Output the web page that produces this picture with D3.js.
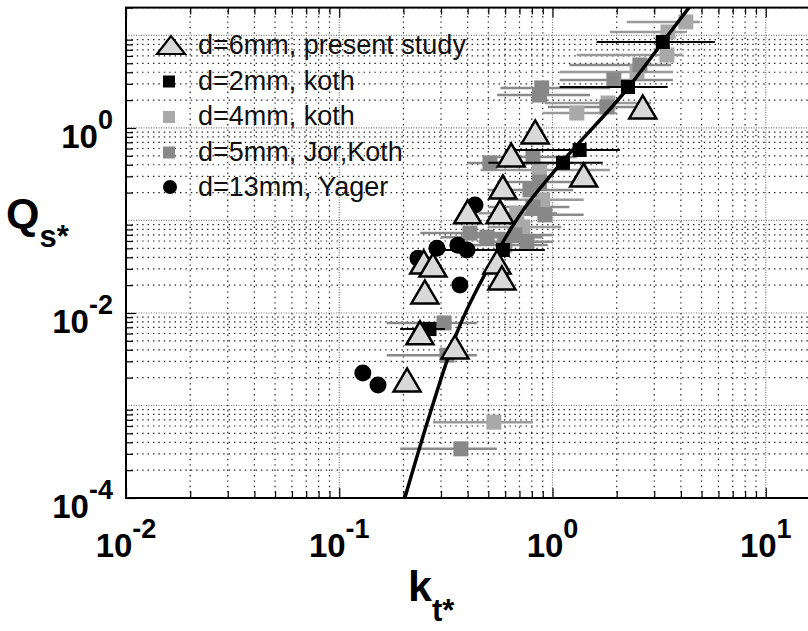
<!DOCTYPE html>
<html>
<head>
<meta charset="utf-8">
<script src="https://cdn.jsdelivr.net/npm/d3@7"></script>
<style>
  body { margin: 0; background: #fff; }
  svg { display: block; font-family: "Liberation Sans", Arial, Helvetica, sans-serif; }
</style>
</head>
<body>
<div id="chart"></div>
<script>
// axis ticks
var xMajor = [1e-2, 1e-1, 1e0, 1e1];
var xExp = ["-2", "-1", "0", "1"];
var yMajor = [1e-4, 1e-2, 1e0];
var yExp = ["-4", "-2", "0"];

// d=6mm, present study (triangles)
var presentKt = [2.65, 0.83, 0.64, 1.40, 0.585, 0.40, 0.567, 0.549, 0.579, 0.249, 0.275, 0.252, 0.239, 0.349, 0.208];
var presentQ  = [1.69, 0.905, 0.51, 0.31, 0.23, 0.124, 0.124, 0.0356, 0.0239, 0.0356, 0.033, 0.0169, 0.0061, 0.0043, 0.00189];

// d=2mm, koth (black squares) with horizontal error bars
var koth2Kt = [3.29, 2.26, 1.34, 1.12, 0.585, 0.265];
var koth2Q  = [8.5, 2.77, 0.578, 0.42, 0.048, 0.0067];
var koth2Lo = [1.61, 1.08, 0.60, 0.50, 0.306, 0.193];
var koth2Hi = [5.77, 3.47, 2.07, 1.72, 0.921, 0.313];

// d=4mm, koth (light grey squares)
var koth4Kt = [4.22, 3.48, 3.44, 2.49, 1.82, 1.30, 0.87, 0.90, 0.68, 0.726, 0.531];
var koth4Q  = [14.0, 10.9, 6.15, 4.03, 1.86, 1.45, 0.352, 0.167, 0.12, 0.085, 0.00066];
var koth4Lo = [2.23, 1.86, 1.30, 1.08, 0.92, 0.90, 0.46, 0.60, 0.45, 0.50, 0.275];
var koth4Hi = [4.91, 4.27, 4.08, 3.67, 2.90, 2.00, 1.86, 1.40, 1.05, 1.10, 0.809];

// d=5mm, Jor,Koth (medium grey squares)
var jor5Kt = [2.57, 1.94, 0.89, 0.87, 1.80, 0.81, 0.509, 0.87, 0.81, 0.493, 0.41, 0.759, 0.667, 0.598, 0.784, 0.921, 0.310, 0.320, 0.372];
var jor5Q  = [4.80, 3.30, 2.71, 2.27, 1.69, 0.485, 0.419, 0.26, 0.14, 0.066, 0.073, 0.059, 0.0697, 0.0543, 0.214, 0.115, 0.0078, 0.0035, 0.00034];
var jor5Lo = [1.20, 1.08, 0.57, 0.55, 0.95, 0.48, 0.40, 0.55, 0.50, 0.30, 0.24, 0.45, 0.42, 0.36, 0.50, 0.60, 0.167, 0.167, 0.193];
var jor5Hi = [3.60, 3.67, 1.86, 1.50, 2.80, 1.30, 1.25, 1.30, 1.20, 0.90, 0.75, 1.00, 1.00, 0.95, 1.25, 1.40, 0.442, 0.442, 0.549];

// d=13mm, Yager (black circles)
var yagerKt = [0.433, 0.287, 0.360, 0.397, 0.234, 0.368, 0.129, 0.152];
var yagerQ  = [0.147, 0.050, 0.054, 0.048, 0.039, 0.0201, 0.00224, 0.00167];

// fitted curve
var fitKt = [0.203, 0.261, 0.356, 0.509, 0.703, 1.08, 2.26, 3.29, 4.65];
var fitQ  = [1e-4, 7.0e-4, 0.0061, 0.033, 0.115, 0.398, 2.71, 8.5, 24.2];

var legendLabels = ["d=6mm, present study", "d=2mm, koth", "d=4mm, koth", "d=5mm, Jor,Koth", "d=13mm, Yager"];

var width = 808, height = 631;
var lightGrey = "#a9a9a9", midGrey = "#888", triFill = "#d9d9d9";

var x = d3.scaleLog().domain([1e-2, 1e2]).range([126, 979]);
var y = d3.scaleLog().domain([1e-4, 20]).range([498, 7.6]);

var svg = d3.select("#chart").append("svg")
    .attr("width", width)
    .attr("height", height);

svg.append("rect").attr("width", width).attr("height", height).attr("fill", "#fff");

svg.append("clipPath").attr("id", "plotclip")
    .append("rect")
    .attr("x", x.range()[0]).attr("y", y.range()[1])
    .attr("width", x.range()[1] - x.range()[0])
    .attr("height", y.range()[0] - y.range()[1]);

var isMajor = function(d) { return Math.abs(Math.log10(d) - Math.round(Math.log10(d))) < 1e-9; };
var xt = x.ticks();
var yt = y.ticks().filter(function(d) { return d <= 20; });

// dotted grid
var grid = svg.append("g");
grid.selectAll(".vg").data(xt).enter().append("line")
    .attr("x1", function(d) { return x(d); }).attr("x2", function(d) { return x(d); })
    .attr("y1", y.range()[0]).attr("y2", y.range()[1])
    .attr("stroke", function(d) { return isMajor(d) ? "#777" : "#222"; })
    .attr("stroke-width", 1.2)
    .attr("stroke-dasharray", function(d) { return isMajor(d) ? "1,1.5" : "1.4,4"; });
grid.selectAll(".hg").data(yt).enter().append("line")
    .attr("y1", function(d) { return y(d); }).attr("y2", function(d) { return y(d); })
    .attr("x1", x.range()[0]).attr("x2", x.range()[1])
    .attr("stroke", function(d) { return isMajor(d) ? "#777" : "#222"; })
    .attr("stroke-width", 1.2)
    .attr("stroke-dasharray", function(d) { return isMajor(d) ? "1,1.5" : "1.4,4"; });

var plot = svg.append("g").attr("clip-path", "url(#plotclip)");

function errBars(kt, q, lo, hi, color, w) {
    plot.append("g").selectAll("line").data(kt).enter().append("line")
        .attr("x1", function(d, i) { return x(lo[i]); })
        .attr("x2", function(d, i) { return x(hi[i]); })
        .attr("y1", function(d, i) { return y(q[i]); })
        .attr("y2", function(d, i) { return y(q[i]); })
        .attr("stroke", color)
        .attr("stroke-width", w);
}

function squares(kt, q, color, s) {
    plot.append("g").selectAll("rect").data(kt).enter().append("rect")
        .attr("x", function(d) { return x(d) - s / 2; })
        .attr("y", function(d, i) { return y(q[i]) - s / 2; })
        .attr("width", s).attr("height", s)
        .attr("fill", color);
}

errBars(koth4Kt, koth4Q, koth4Lo, koth4Hi, "#9a9a9a", 2.5);
errBars(jor5Kt, jor5Q, jor5Lo, jor5Hi, "#8a8a8a", 2.5);
squares(koth4Kt, koth4Q, lightGrey, 15);
squares(jor5Kt, jor5Q, midGrey, 15);

var line = d3.line()
    .curve(d3.curveMonotoneX)
    .x(function(d) { return x(d); })
    .y(function(d, i) { return y(fitQ[i]); });

plot.append("path")
    .attr("d", line(fitKt))
    .attr("fill", "none")
    .attr("stroke", "#000")
    .attr("stroke-width", 3.5);

errBars(koth2Kt, koth2Q, koth2Lo, koth2Hi, "#000", 2);
squares(koth2Kt, koth2Q, "#000", 14);

plot.append("g").selectAll("circle").data(yagerKt).enter().append("circle")
    .attr("cx", function(d) { return x(d); })
    .attr("cy", function(d, i) { return y(yagerQ[i]); })
    .attr("r", 8.5)
    .attr("fill", "#000");

var tri = function(cx, cy, w, h) {
    return "M" + (cx - w / 2) + "," + (cy + h / 2) + "L" + (cx + w / 2) + "," + (cy + h / 2) + "L" + cx + "," + (cy - h / 2) + "Z";
};

plot.append("g").selectAll("path").data(presentKt).enter().append("path")
    .attr("d", function(d, i) { return tri(x(d), y(presentQ[i]), 27, 23); })
    .attr("fill", triFill)
    .attr("stroke", "#000")
    .attr("stroke-width", 2.5)
    .attr("stroke-linejoin", "miter");

// axes: ticks point inward
function drawTicks(gen, pos, vals, len) {
    var g = svg.append("g").attr("transform", pos).call(gen.tickValues(vals).tickSize(len).tickFormat(""));
    g.select(".domain").remove();
    g.selectAll("line").attr("stroke", "#000").attr("stroke-width", 1.2);
}
var xMin = xt.filter(function(d) { return !isMajor(d); });
var yMin = yt.filter(function(d) { return !isMajor(d); });
drawTicks(d3.axisBottom(x), "translate(0," + y.range()[0] + ")", xMin, -7);
drawTicks(d3.axisBottom(x), "translate(0," + y.range()[0] + ")", xMajor, -10);
drawTicks(d3.axisTop(x), "translate(0," + y.range()[1] + ")", xMin, -7);
drawTicks(d3.axisTop(x), "translate(0," + y.range()[1] + ")", xMajor, -10);
drawTicks(d3.axisLeft(y), "translate(" + x.range()[0] + ",0)", yMin, -7);
drawTicks(d3.axisLeft(y), "translate(" + x.range()[0] + ",0)", yMajor, -10);

// frame
svg.append("rect")
    .attr("x", x.range()[0]).attr("y", y.range()[1])
    .attr("width", x.range()[1] - x.range()[0])
    .attr("height", y.range()[0] - y.range()[1])
    .attr("fill", "none").attr("stroke", "#000").attr("stroke-width", 2);

// tick labels
svg.selectAll(".xlab").data(xMajor).enter().append("text")
    .attr("class", "xlab")
    .attr("x", function(d) { return x(d); })
    .attr("y", 557)
    .attr("text-anchor", "middle")
    .style("font-weight", "bold")
    .each(function(d, i) {
        var t = d3.select(this);
        t.append("tspan").style("font-size", "33px").text("10");
        t.append("tspan").style("font-size", "27px").attr("dy", -19).text(xExp[i]);
    });

svg.selectAll(".ylab").data(yMajor).enter().append("text")
    .attr("class", "ylab")
    .attr("x", 113)
    .attr("y", function(d) { return y(d) + 20; })
    .attr("text-anchor", "end")
    .style("font-weight", "bold")
    .each(function(d, i) {
        var t = d3.select(this);
        t.append("tspan").style("font-size", "33px").text("10");
        t.append("tspan").style("font-size", "27px").attr("dy", -19).text(yExp[i]);
    });

// axis titles
var qt = svg.append("text").attr("x", 6).attr("y", 228).style("font-weight", "bold");
qt.append("tspan").style("font-size", "43px").text("Q");
qt.append("tspan").style("font-size", "31px").attr("dy", 19).text("s*");

var kt = svg.append("text").attr("x", 408).attr("y", 601).style("font-weight", "bold");
kt.append("tspan").style("font-size", "43px").text("k");
kt.append("tspan").style("font-size", "31px").attr("dy", 20).text("t*");

// legend
var leg = svg.append("g");
leg.selectAll("text").data(legendLabels).enter().append("text")
    .attr("x", 198)
    .attr("y", function(d, i) { return 54 + i * 35.5; })
    .style("font-size", "27px")
    .attr("fill", "#111")
    .text(function(d) { return d; });
leg.append("path").attr("d", tri(171, 45, 28, 18))
    .attr("fill", triFill).attr("stroke", "#000").attr("stroke-width", 2.2);
var sqCol = ["#000", lightGrey, midGrey];
leg.selectAll("rect").data(sqCol).enter().append("rect")
    .attr("x", 163).attr("y", function(d, i) { return 54 + (i + 1) * 35.5 - 14; })
    .attr("width", 12).attr("height", 12)
    .attr("fill", function(d) { return d; });
leg.append("circle").attr("cx", 170).attr("cy", 54 + 4 * 35.5 - 9).attr("r", 7).attr("fill", "#000");
</script>
</body>
</html>
